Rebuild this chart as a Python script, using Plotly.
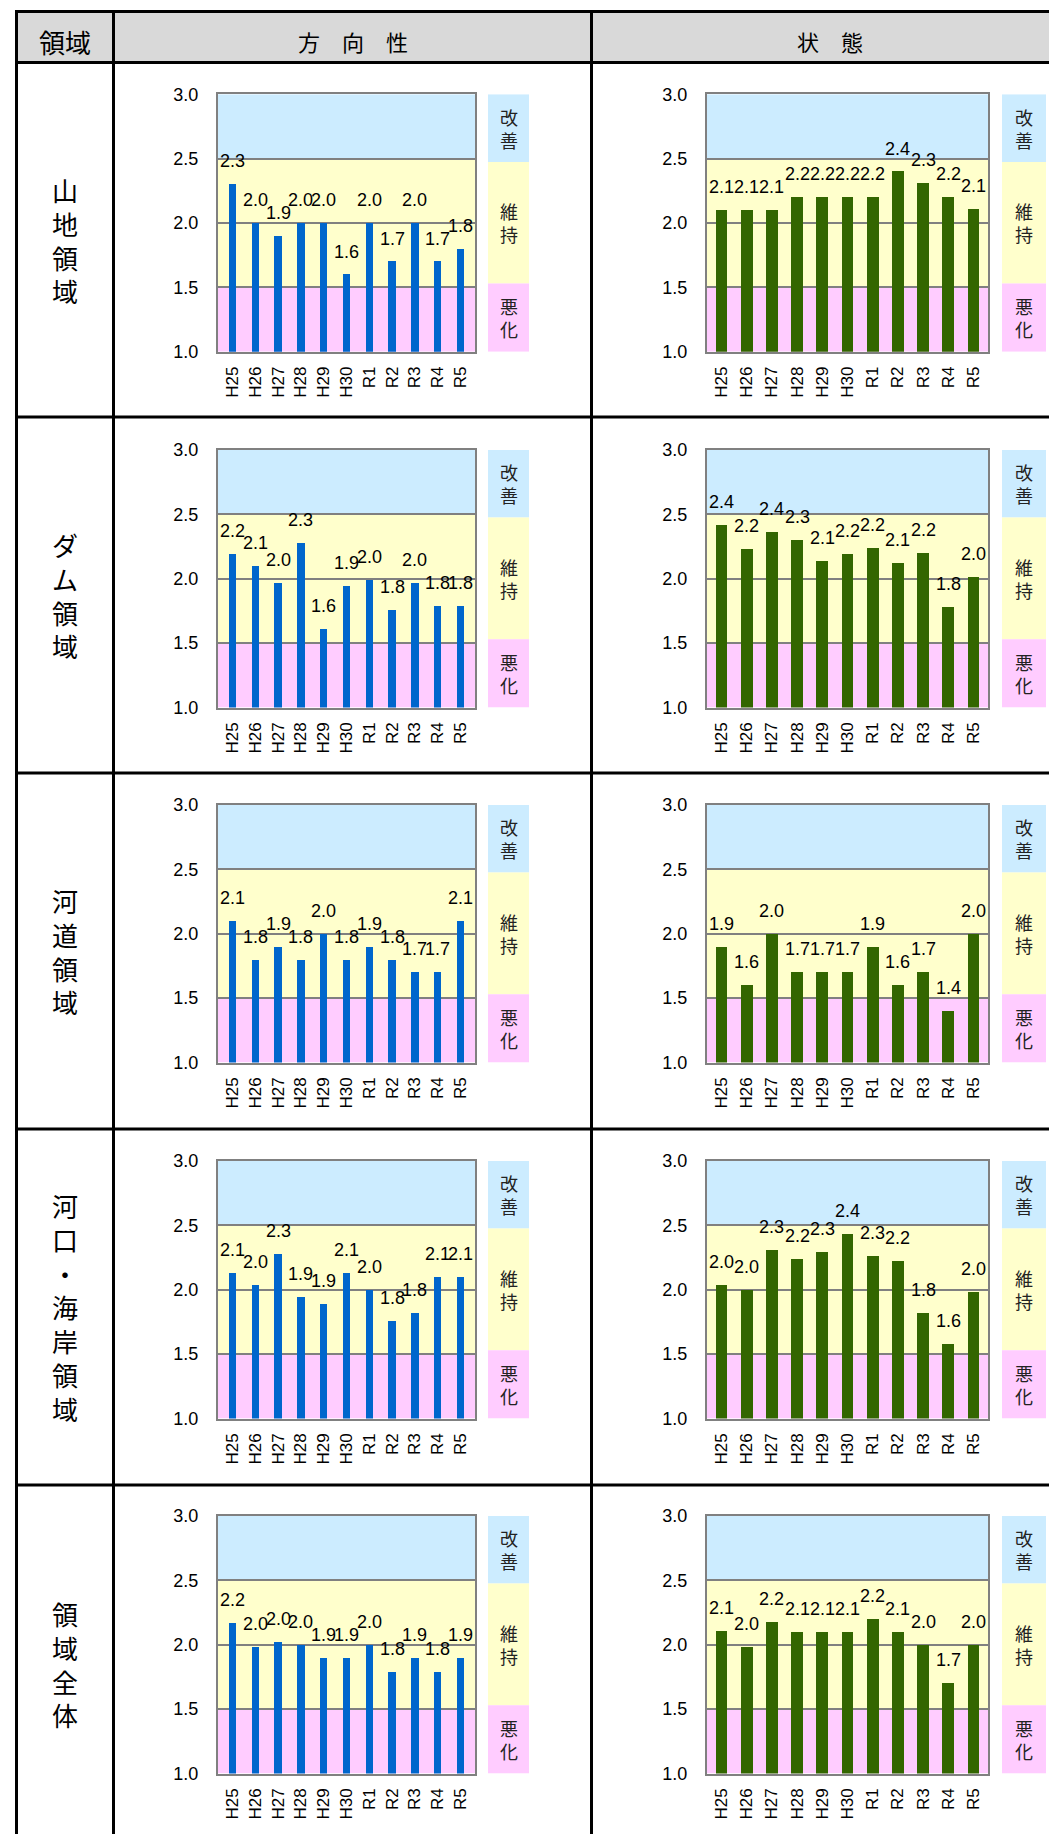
import plotly.graph_objects as go

# ---- data -------------------------------------------------------------
categories = ["H25", "H26", "H27", "H28", "H29", "H30", "R1", "R2", "R3", "R4", "R5"]
regions = ["山地領域", "ダム領域", "河道領域", "河口・海岸領域", "領域全体"]

# 方向性 (direction) scores by region
dir_sanchi = [2.3, 2.0, 1.9, 2.0, 2.0, 1.6, 2.0, 1.7, 2.0, 1.7, 1.8]
dir_dam = [2.19, 2.1, 1.97, 2.28, 1.61, 1.94, 1.99, 1.76, 1.97, 1.79, 1.79]
dir_kado = [2.1, 1.8, 1.9, 1.8, 2.0, 1.8, 1.9, 1.8, 1.7, 1.7, 2.1]
dir_kako = [2.13, 2.04, 2.28, 1.94, 1.89, 2.13, 2.0, 1.76, 1.82, 2.1, 2.1]
dir_all = [2.17, 1.98, 2.02, 2.0, 1.9, 1.9, 2.0, 1.79, 1.9, 1.79, 1.9]

# 状態 (state) scores by region
st_sanchi = [2.1, 2.1, 2.1, 2.2, 2.2, 2.2, 2.2, 2.4, 2.31, 2.2, 2.11]
st_dam = [2.42, 2.23, 2.36, 2.3, 2.14, 2.19, 2.24, 2.12, 2.2, 1.78, 2.01]
st_kado = [1.9, 1.6, 2.0, 1.7, 1.7, 1.7, 1.9, 1.6, 1.7, 1.4, 2.0]
st_kako = [2.04, 2.0, 2.31, 2.24, 2.29, 2.43, 2.26, 2.22, 1.82, 1.58, 1.98]
st_all = [2.11, 1.98, 2.18, 2.1, 2.1, 2.1, 2.2, 2.1, 2.0, 1.7, 2.0]

direction = [dir_sanchi, dir_dam, dir_kado, dir_kako, dir_all]
state = [st_sanchi, st_dam, st_kado, st_kako, st_all]

column_titles = ["領域", "方　向　性", "状　態"]
y_ticks = [1.0, 1.5, 2.0, 2.5, 3.0]
# evaluation bands: (label, low, high, colour)
bands = [("改善", 2.5, 3.0, "#CCECFF"), ("維持", 1.5, 2.5, "#FFFFCC"), ("悪化", 1.0, 1.5, "#FFCCFF")]
side_box_edges = [(2.475, 3.0), (1.53, 2.475), (1.0, 1.53)]

# ---- page geometry (pixels) -------------------------------------------
W, H = 1049, 1834
row_tops = [62.5, 417, 773, 1129, 1485]
plot_tops = [94.3, 450, 805, 1161, 1516]
plot_h = 257.5
col_plot_x = [(218, 475), (707, 988)]
col_box_x = [(488, 529), (1002, 1046)]
bar_width = [0.33, 0.47]
bar_color = ["#0066CC", "#336600"]

JP = "Noto Sans CJK JP"
NUM = "Liberation Sans, Arial, sans-serif"


def px(x):
    return x / W


def py(y):
    return 1 - y / H


fig = go.Figure()
layout = dict(
    template="none", autosize=False,
    width=W, height=H, margin=dict(l=0, r=0, t=0, b=0, pad=0),
    paper_bgcolor="white", plot_bgcolor="rgba(0,0,0,0)",
    showlegend=False, bargap=0,
    font=dict(family=NUM, color="black"),
)
shapes = []
annotations = []

n = 0
for r in range(5):
    for c, series in enumerate([direction, state]):
        n += 1
        xa = "x" if n == 1 else f"x{n}"
        ya = "y" if n == 1 else f"y{n}"
        vals = series[r]
        fig.add_trace(go.Bar(
            x=categories, y=vals, xaxis=xa, yaxis=ya,
            marker=dict(color=bar_color[c], line=dict(width=0)),
            width=bar_width[c], hoverinfo="skip",
        ))
        x0, x1 = col_plot_x[c]
        top = plot_tops[r]
        bot = top + plot_h
        layout["xaxis" if n == 1 else f"xaxis{n}"] = dict(
            domain=[px(x0), px(x1)], anchor=ya, type="category", automargin=False,
            showline=True, mirror=True, linecolor="#808080", linewidth=2,
            showgrid=False, ticks="", tickangle=-90, ticklabelstandoff=6,
            tickfont=dict(size=17, family=NUM, color="black"),
        )
        layout["yaxis" if n == 1 else f"yaxis{n}"] = dict(
            domain=[py(bot), py(top)], anchor=xa, range=[1, 3], automargin=False,
            tickvals=y_ticks, tickformat=".1f",
            showline=True, mirror=True, linecolor="#808080", linewidth=2,
            showgrid=True, gridcolor="#808080", gridwidth=2, zeroline=False,
            ticks="", ticklabelstandoff=14,
            tickfont=dict(size=18, family=NUM, color="black"),
        )
        # coloured evaluation bands inside the plot
        for (label, lo, hi, col) in bands:
            shapes.append(dict(type="rect", xref=f"{xa} domain", yref=ya,
                               x0=0, x1=1, y0=lo, y1=hi, fillcolor=col,
                               line=dict(width=0), layer="below"))
        # side legend boxes with vertical labels
        bx0, bx1 = col_box_x[c]
        for (label, lo, hi, col), (elo, ehi) in zip(bands, side_box_edges):
            shapes.append(dict(type="rect", xref="paper", yref=ya,
                               x0=px(bx0), x1=px(bx1), y0=elo, y1=ehi,
                               fillcolor=col, line=dict(width=0)))
            annotations.append(dict(
                xref="paper", yref=ya, x=px((bx0 + bx1) / 2), y=(elo + ehi) / 2,
                text="<br>".join(label), showarrow=False,
                font=dict(size=18, family=JP, color="#222222"),
                xanchor="center", yanchor="middle"))
        # value labels above the bars
        for cat, v in zip(categories, vals):
            annotations.append(dict(
                xref=xa, yref=ya, x=cat, y=v, yshift=23, text=f"{v:.1f}",
                showarrow=False, xanchor="center", yanchor="middle",
                font=dict(size=18, family=NUM, color="black")))

# ---- table frame ------------------------------------------------------
table_left, div1, div2, table_right = 16.5, 113.5, 591.5, 1070
table_top, header_bottom = 11.5, 62.5
shapes.insert(0, dict(type="rect", xref="paper", yref="paper",
                      x0=px(table_left), x1=px(table_right),
                      y0=py(header_bottom), y1=py(table_top),
                      fillcolor="#D9D9D9", line=dict(width=0), layer="below"))
for xv in [table_left, div1, div2]:
    shapes.append(dict(type="line", xref="paper", yref="paper",
                       x0=px(xv), x1=px(xv), y0=py(table_top - 1.5), y1=py(H + 10),
                       line=dict(color="black", width=3)))
for yv in [table_top, header_bottom] + row_tops[1:]:
    shapes.append(dict(type="line", xref="paper", yref="paper",
                       x0=px(table_left - 1.5), x1=px(table_right), y0=py(yv), y1=py(yv),
                       line=dict(color="black", width=3)))

# header titles
header_x = [(table_left + div1) / 2, (div1 + div2) / 2, 830]
header_sizes = [26, 22, 22]
for t, xc, fs in zip(column_titles, header_x, header_sizes):
    annotations.append(dict(xref="paper", yref="paper", x=px(xc), y=py(41),
                            text=t, showarrow=False, xanchor="center", yanchor="middle",
                            font=dict(size=fs, family=JP, color="black")))

# region names, written vertically
row_bottoms = row_tops[1:] + [H + 8]
for name, t, b in zip(regions, row_tops, row_bottoms):
    annotations.append(dict(xref="paper", yref="paper", x=px((table_left + div1) / 2),
                            y=py((t + b) / 2), text="<br>".join(name), showarrow=False,
                            xanchor="center", yanchor="middle",
                            font=dict(size=26, family=JP, color="black")))

layout["shapes"] = shapes
layout["annotations"] = annotations
fig.update_layout(**layout)
fig.write_html(
    "out.html",
    config={"displayModeBar": False, "responsive": False},
    post_script="document.body.style.margin='0';document.body.style.padding='0';",
)
